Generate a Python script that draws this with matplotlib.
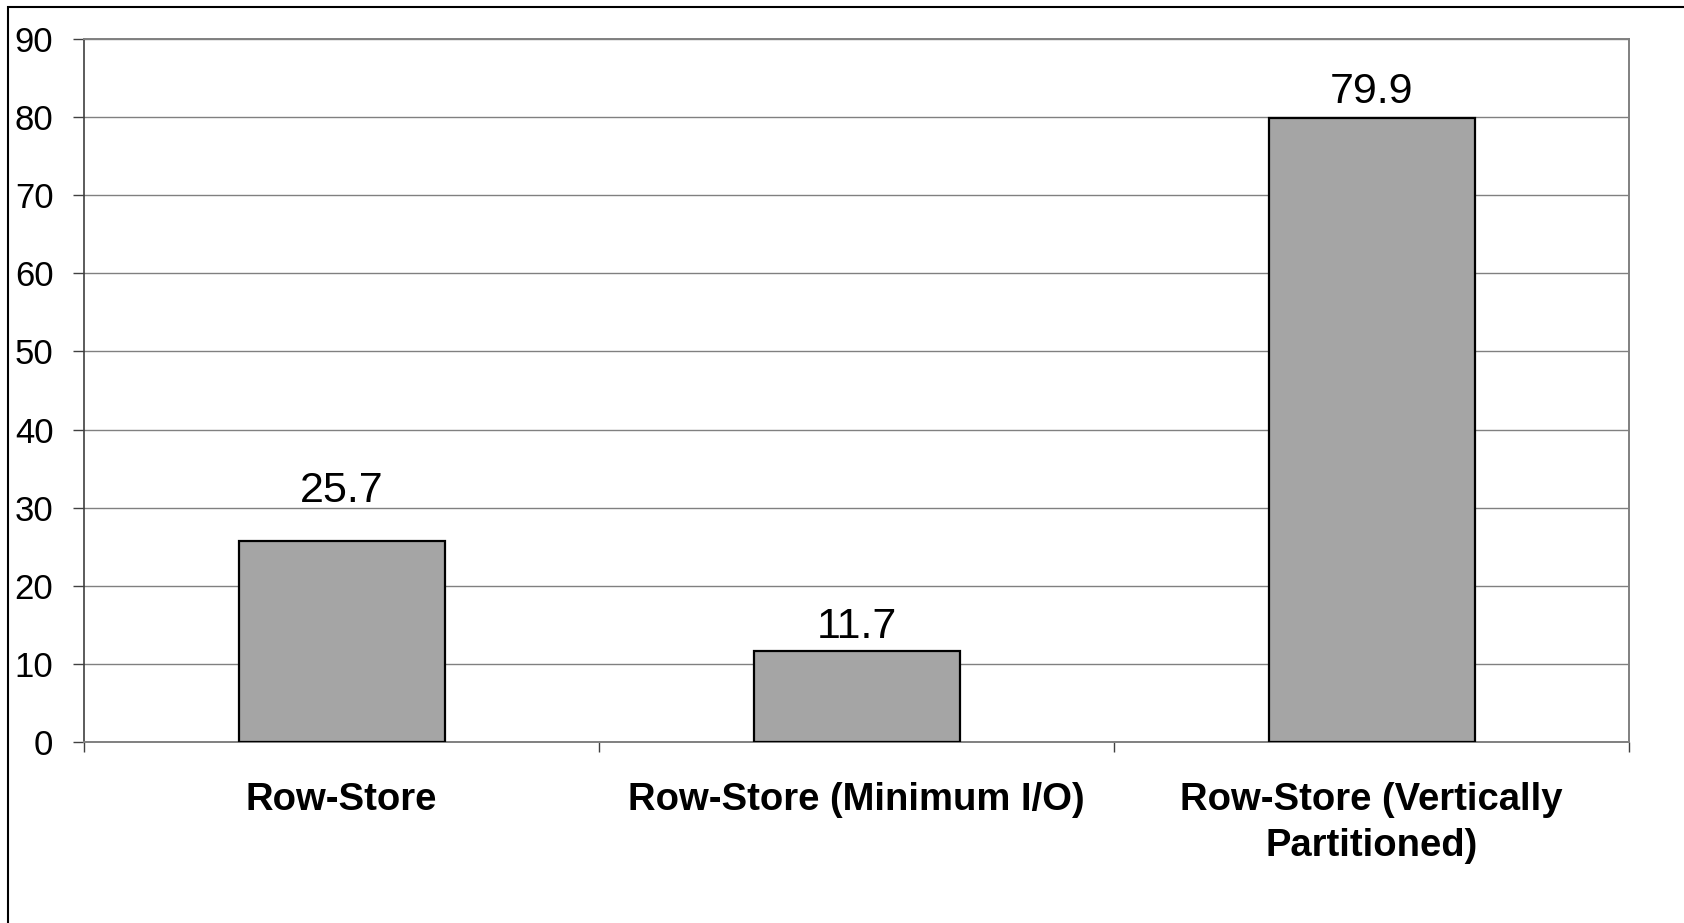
import matplotlib
matplotlib.use("Agg")
import matplotlib.pyplot as plt
from matplotlib.patches import Rectangle

plt.rcParams['font.family'] = ['Liberation Sans', 'DejaVu Sans']

categories = ["Row-Store", "Row-Store (Minimum I/O)",
              "Row-Store (Vertically\nPartitioned)"]
values = [25.7, 11.7, 79.9]
value_labels = ["25.7", "11.7", "79.9"]
y_ticks = [0, 10, 20, 30, 40, 50, 60, 70, 80, 90]
label_offsets_pt = [28, 9, 11]  # label placement above each bar, as in the original

fig = plt.figure(figsize=(16.84, 9.23), dpi=100)
ax = fig.add_axes([84 / 1684, 1 - 742 / 923, (1629 - 84) / 1684, (742 - 39) / 923])

# outer chart frame (only top and left edges are visible in the picture)
fig.add_artist(Rectangle((8 / 1684, -0.1), 1.2, 1 - 7 / 923 + 0.1,
                         transform=fig.transFigure, fill=False,
                         edgecolor='black', linewidth=1.5, zorder=0))

ax.set_axisbelow(True)
ax.yaxis.grid(True, color='#808080', linewidth=1.0)

x = list(range(len(categories)))
ax.bar(x, values, width=0.4, color='#a5a5a5', edgecolor='black',
       linewidth=1.6, zorder=3)

for xi, v, lab, off in zip(x, values, value_labels, label_offsets_pt):
    ax.annotate(lab, (xi, v), xytext=(0, off), textcoords='offset points',
                ha='center', va='baseline', fontsize=31, color='black')

ax.set_xlim(-0.5, len(categories) - 0.5)
ax.set_ylim(0, 90)
ax.set_yticks(y_ticks)
ax.set_yticklabels([str(t) for t in y_ticks])
ax.tick_params(axis='y', direction='out', length=8, width=1.0,
               color='#404040', labelsize=25, pad=14)

# category boundaries carry the tick marks, labels sit at bar centres
ax.set_xticks([i - 0.5 for i in range(len(categories) + 1)])
ax.set_xticklabels([])
ax.tick_params(axis='x', which='major', direction='out', length=7.5,
               width=1.0, color='#404040')
ax.set_xticks(x, minor=True)
ax.set_xticklabels(categories, minor=True, fontsize=27.5, fontweight='bold',
                   linespacing=1.36)
ax.tick_params(axis='x', which='minor', length=0, pad=29)

ax.spines['left'].set_color('#404040')
ax.spines['left'].set_linewidth(1.2)
ax.spines['bottom'].set_color('#808080')
ax.spines['bottom'].set_linewidth(1.4)
ax.spines['top'].set_color('#808080')
ax.spines['top'].set_linewidth(1.4)
ax.spines['right'].set_color('#808080')
ax.spines['right'].set_linewidth(1.4)

fig.savefig("out.png", dpi=100, facecolor='white')
